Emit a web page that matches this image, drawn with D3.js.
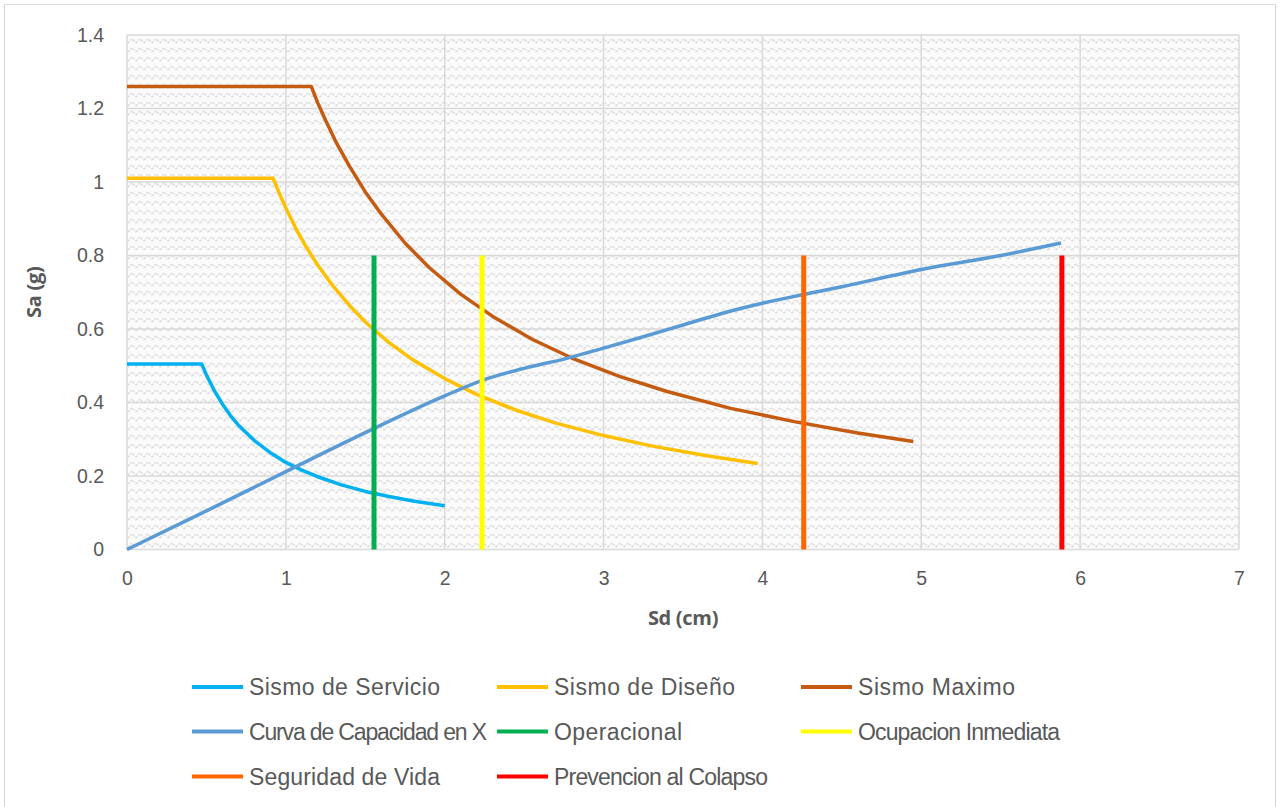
<!DOCTYPE html>
<html>
<head>
<meta charset="utf-8">
<script src="https://cdn.jsdelivr.net/npm/d3@7"></script>
<style>
  html, body { margin: 0; padding: 0; background: #fff; }
  svg { display: block; }
</style>
</head>
<body>
<svg id="chart" width="1280" height="807"></svg>
<script>
// Demand spectra (Sd in cm, Sa in g)
const servicioSd = [0, 0.47, 0.5, 0.55, 0.6, 0.65, 0.7, 0.8, 0.9, 1.0, 1.1, 1.2, 1.35, 1.5, 1.65, 1.8, 2.0];
const servicioSa = [0.505, 0.505, 0.475, 0.432, 0.396, 0.365, 0.339, 0.297, 0.264, 0.237, 0.216, 0.198, 0.176, 0.158, 0.144, 0.132, 0.119];

const disenoSd = [0, 0.92, 0.96, 1.0, 1.06, 1.12, 1.2, 1.3, 1.4, 1.5, 1.65, 1.8, 2.0, 2.2, 2.45, 2.7, 3.0, 3.3, 3.65, 3.97];
const disenoSa = [1.01, 1.01, 0.968, 0.929, 0.876, 0.829, 0.774, 0.715, 0.664, 0.619, 0.563, 0.516, 0.465, 0.422, 0.379, 0.344, 0.310, 0.282, 0.255, 0.234];

const maximoSd = [0, 1.16, 1.2, 1.25, 1.32, 1.4, 1.5, 1.6, 1.75, 1.9, 2.1, 2.3, 2.55, 2.8, 3.1, 3.4, 3.8, 4.2, 4.6, 4.95];
const maximoSa = [1.26, 1.26, 1.216, 1.168, 1.105, 1.043, 0.973, 0.913, 0.834, 0.768, 0.695, 0.635, 0.572, 0.521, 0.471, 0.430, 0.384, 0.348, 0.317, 0.294];

// Capacity curve
const capacidadSd = [0, 0.5, 1.0, 1.5, 2.0, 2.25, 2.5, 2.75, 3.0, 3.25, 3.5, 3.75, 4.0, 4.25, 4.5, 5.0, 5.5, 5.88];
const capacidadSa = [0, 0.105, 0.212, 0.318, 0.418, 0.462, 0.493, 0.518, 0.548, 0.579, 0.611, 0.643, 0.670, 0.693, 0.715, 0.762, 0.800, 0.834];

// Performance levels (vertical markers)
const nivelNombres = ["Operacional", "Ocupacion Inmediata", "Seguridad de Vida", "Prevencion al Colapso"];
const nivelSd = [1.555, 2.235, 4.26, 5.885];
const nivelTop = 0.8;

const xTicks = [0, 1, 2, 3, 4, 5, 6, 7];
const yTicks = [0, 0.2, 0.4, 0.6, 0.8, 1, 1.2, 1.4];

const svg = d3.select("#chart");
const W = 1280, H = 807;
const plot = { left: 127, right: 1239, top: 35, bottom: 549.5 };

const x = d3.scaleLinear().domain([0, 7]).range([plot.left, plot.right]);
const y = d3.scaleLinear().domain([0, 1.4]).range([plot.bottom, plot.top]);

// outer frame
svg.append("rect").attr("x", 4.5).attr("y", 4.5).attr("width", W - 9).attr("height", H)
  .attr("fill", "#fff").attr("stroke", "#d9d9d9").attr("stroke-width", 1);

// zig-zag fill for plot area
const defs = svg.append("defs");
const pat = defs.append("pattern").attr("id", "zigzag")
  .attr("patternUnits", "userSpaceOnUse").attr("width", 8).attr("height", 9);
pat.append("rect").attr("width", 8).attr("height", 9).attr("fill", "#fbfbfb");
pat.append("path").attr("d", "M0,7 L4,3 L8,7")
  .attr("fill", "none").attr("stroke", "#dadada").attr("stroke-width", 1.4)
  .attr("stroke-dasharray", "2.2 1.2");

svg.append("rect")
  .attr("x", plot.left).attr("y", plot.top)
  .attr("width", plot.right - plot.left).attr("height", plot.bottom - plot.top)
  .attr("fill", "url(#zigzag)");

// gridlines
const grid = svg.append("g").attr("stroke", "#d9d9d9").attr("stroke-width", 1.5);
grid.selectAll("line.v").data(xTicks).join("line")
  .attr("x1", d => x(d)).attr("x2", d => x(d))
  .attr("y1", plot.top).attr("y2", plot.bottom);
grid.selectAll("line.h").data(yTicks).join("line")
  .attr("x1", plot.left).attr("x2", plot.right)
  .attr("y1", d => y(d)).attr("y2", d => y(d));

// axes (labels only)
const fmtY = d => (d === 0 || d === 1) ? String(d) : d3.format(".1f")(d);
const xAxis = svg.append("g").attr("transform", `translate(0,${plot.bottom})`)
  .call(d3.axisBottom(x).tickValues(xTicks).tickSize(0).tickPadding(22).tickFormat(d3.format("d")));
const yAxis = svg.append("g").attr("transform", `translate(${plot.left},0)`)
  .call(d3.axisLeft(y).tickValues(yTicks).tickSize(0).tickPadding(23).tickFormat(fmtY));
[xAxis, yAxis].forEach(a => {
  a.select(".domain").remove();
  a.selectAll("text").attr("font-family", "Liberation Sans, Arial, sans-serif")
    .attr("font-size", 19.5).attr("fill", "#595959");
});

// axis titles
svg.append("text").attr("x", x(3.5)).attr("y", 625)
  .attr("text-anchor", "middle").attr("font-family", "Open Sans, sans-serif")
  .attr("font-weight", "bold").attr("font-size", 20).attr("letter-spacing", -0.3)
  .attr("fill", "#595959").text("Sd (cm)");
svg.append("text").attr("transform", `translate(41,${(plot.top + plot.bottom) / 2}) rotate(-90)`)
  .attr("text-anchor", "middle").attr("font-family", "Open Sans, sans-serif")
  .attr("font-weight", "bold").attr("font-size", 20).attr("letter-spacing", -0.3)
  .attr("fill", "#595959").text("Sa (g)");

// series
const curves = [
  { name: "Sismo de Servicio", sd: servicioSd, sa: servicioSa, color: "#00b0f0", curve: d3.curveLinear },
  { name: "Sismo de Diseño", sd: disenoSd, sa: disenoSa, color: "#ffc000", curve: d3.curveLinear },
  { name: "Sismo Maximo", sd: maximoSd, sa: maximoSa, color: "#c55a11", curve: d3.curveLinear },
  { name: "Curva de Capacidad en X", sd: capacidadSd, sa: capacidadSa, color: "#5b9bd5", curve: d3.curveMonotoneX }
];
const nivelColores = ["#00b050", "#ffff00", "#ff6600", "#ff0000"];

const g = svg.append("g");
curves.forEach(c => {
  const line = d3.line().x(d => x(d[0])).y(d => y(d[1])).curve(c.curve);
  g.append("path").datum(c.sd.map((v, i) => [v, c.sa[i]]))
    .attr("d", line).attr("fill", "none").attr("stroke", c.color)
    .attr("stroke-width", 3.5).attr("stroke-linejoin", "round");
});

g.selectAll("line.nivel").data(nivelSd).join("line")
  .attr("x1", d => x(d)).attr("x2", d => x(d))
  .attr("y1", y(0)).attr("y2", y(nivelTop))
  .attr("stroke", (d, i) => nivelColores[i]).attr("stroke-width", 5);

// legend
const legendItems = [
  ...curves.map(c => ({ name: c.name, color: c.color })),
  ...nivelNombres.map((n, i) => ({ name: n, color: nivelColores[i] }))
];
// rendered label widths in the legend layout
const legendTextWidth = [191, 181, 157, 238, 128, 202, 191, 214];
const colX = [192, 497, 801];
const rowY = [687, 731.5, 776.5];
const lg = svg.append("g");
legendItems.forEach((it, i) => {
  const cx = colX[i % 3], cy = rowY[Math.floor(i / 3)];
  lg.append("line").attr("x1", cx).attr("x2", cx + 51).attr("y1", cy).attr("y2", cy)
    .attr("stroke", it.color).attr("stroke-width", 4);
  lg.append("text").attr("x", cx + 57).attr("y", cy).attr("dy", "0.35em")
    .attr("font-family", "Liberation Sans, Arial, sans-serif").attr("font-size", 23)
    .attr("textLength", legendTextWidth[i]).attr("lengthAdjust", "spacing")
    .attr("fill", "#595959").text(it.name);
});
</script>
</body>
</html>
